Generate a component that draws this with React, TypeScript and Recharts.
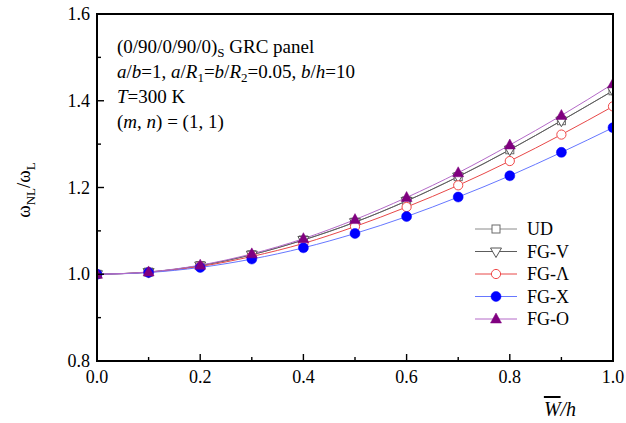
import React from "react";
import { LineChart, Line, XAxis, YAxis, ReferenceLine } from "recharts";

const xValues = [0, 0.1, 0.2, 0.3, 0.4, 0.5, 0.6, 0.7, 0.8, 0.9, 1.0];
const udValues = [1.0, 1.005, 1.02, 1.045, 1.079, 1.12, 1.169, 1.225, 1.287, 1.354, 1.423];
const fgVValues = [1.0, 1.005, 1.02, 1.045, 1.079, 1.12, 1.169, 1.225, 1.287, 1.354, 1.423];
const fgLambdaValues = [1.0, 1.0046, 1.018, 1.041, 1.071, 1.11, 1.155, 1.205, 1.261, 1.322, 1.387];
const fgXValues = [1.0, 1.004, 1.0157, 1.035, 1.061, 1.094, 1.133, 1.178, 1.227, 1.281, 1.338];
const fgOValues = [1.0, 1.0053, 1.021, 1.047, 1.082, 1.126, 1.177, 1.234, 1.298, 1.366, 1.439];

const xTicks = [0, 0.1, 0.2, 0.3, 0.4, 0.5, 0.6, 0.7, 0.8, 0.9, 1.0];
const xTickLabels = ["0.0", "", "0.2", "", "0.4", "", "0.6", "", "0.8", "", "1.0"];
const yTicks = [0.8, 0.9, 1.0, 1.1, 1.2, 1.3, 1.4, 1.5, 1.6];
const yTickLabels = ["0.8", "", "1.0", "", "1.2", "", "1.4", "", "1.6"];

const series = [
  { key: "ud", name: "UD", values: udValues, line: "#8a8a8a", mark: "#6a6a6a", shape: "square" },
  { key: "fgV", name: "FG-V", values: fgVValues, line: "#5c5c5c", mark: "#555555", shape: "triDown" },
  { key: "fgL", name: "FG-\u039B", values: fgLambdaValues, line: "#e84848", mark: "#f04848", shape: "circleOpen" },
  { key: "fgX", name: "FG-X", values: fgXValues, line: "#6677ff", mark: "#0000ff", shape: "circleFill" },
  { key: "fgO", name: "FG-O", values: fgOValues, line: "#b46ac8", mark: "#800080", shape: "triUp" },
];

const data = xValues.map((x, i) => {
  const row: any = { x };
  series.forEach((s) => (row[s.key] = s.values[i]));
  return row;
});

const FONT = "'Liberation Serif', 'Times New Roman', serif";

const PLOT = { left: 97, top: 14, right: 613, bottom: 361 };

function Marker({ shape, cx, cy, color }: any) {
  if (cx == null || cy == null) return null;
  switch (shape) {
    case "square":
      return <rect x={cx - 4} y={cy - 4} width={8} height={8} fill="#fff" stroke={color} strokeWidth={1} />;
    case "triDown":
      return (
        <polygon
          points={`${cx - 5.5},${cy - 3.5} ${cx + 5.5},${cy - 3.5} ${cx},${cy + 6}`}
          fill="#fff"
          stroke={color}
          strokeWidth={1}
        />
      );
    case "circleOpen":
      return <circle cx={cx} cy={cy} r={4.6} fill="#fff" stroke={color} strokeWidth={1} />;
    case "circleFill":
      return <circle cx={cx} cy={cy} r={5} fill={color} stroke={color} strokeWidth={0.5} />;
    case "triUp":
      return (
        <polygon
          points={`${cx - 5.5},${cy + 4} ${cx + 5.5},${cy + 4} ${cx},${cy - 6}`}
          fill={color}
          stroke={color}
          strokeWidth={0.5}
        />
      );
    default:
      return null;
  }
}

function XTick(props: any) {
  const { x, y, index } = props;
  const label = xTickLabels[index] ?? "";
  const major = label !== "";
  const len = major ? 7 : 4;
  return (
    <g>
      <rect x={x - 0.7} y={y - len} width={1.4} height={len} fill="#000" />
      {major && (
        <text x={x} y={y + 22} textAnchor="middle" fontFamily={FONT} fontSize={18} fill="#000">
          {label}
        </text>
      )}
    </g>
  );
}

function YTick(props: any) {
  const { x, y, index } = props;
  const label = yTickLabels[index] ?? "";
  const major = label !== "";
  const len = major ? 7 : 4;
  return (
    <g>
      <rect x={x} y={y - 0.7} width={len} height={1.4} fill="#000" />
      {major && (
        <text x={x - 7} y={y + 6} textAnchor="end" fontFamily={FONT} fontSize={18} fill="#000">
          {label}
        </text>
      )}
    </g>
  );
}

function LegendBlock() {
  const rowH = 22.5;
  const left = 475;
  const top = 229;
  return (
    <g>
      {series.map((s, i) => {
        const cy = top + i * rowH;
        return (
          <g key={s.key}>
            <line x1={left} x2={left + 42} y1={cy} y2={cy} stroke={s.line} strokeWidth={1} />
            <Marker shape={s.shape} cx={left + 21} cy={cy} color={s.mark} />
            <text x={left + 52} y={cy + 6} fontFamily={FONT} fontSize={18} fill="#000">
              {s.name}
            </text>
          </g>
        );
      })}
    </g>
  );
}

export default function App() {
  return (
    <div style={{ position: "absolute", left: 0, top: 0, width: 626, height: 423, background: "#fff" }}>
      <LineChart
        width={626}
        height={423}
        data={data}
        margin={{ top: PLOT.top, right: 626 - PLOT.right, left: 0, bottom: 0 }}
      >
        <XAxis
          dataKey="x"
          type="number"
          domain={[0, 1]}
          ticks={xTicks}
          interval={0}
          allowDataOverflow
          tickSize={0}
          tickMargin={0}
          tick={XTick}
          tickLine={false}
          axisLine={{ stroke: "#000", strokeWidth: 1.8 }}
          height={423 - PLOT.bottom}
        />
        <YAxis
          type="number"
          domain={[0.8, 1.6]}
          ticks={yTicks}
          interval={0}
          allowDataOverflow
          tickSize={0}
          tickMargin={0}
          tick={YTick}
          tickLine={false}
          axisLine={{ stroke: "#000", strokeWidth: 1.8 }}
          width={PLOT.left}
        />
        <ReferenceLine y={1.6} stroke="#000" strokeWidth={1.8} ifOverflow="extendDomain" />
        <ReferenceLine x={1} stroke="#000" strokeWidth={1.8} ifOverflow="extendDomain" />
        {series.map((s) => (
          <Line
            key={s.key}
            dataKey={s.key}
            name={s.name}
            type="monotone"
            stroke={s.line}
            strokeWidth={1}
            isAnimationActive={false}
            dot={(p: any) => <Marker key={`${s.key}-${p.index}`} shape={s.shape} cx={p.cx} cy={p.cy} color={s.mark} />}
            activeDot={false}
          />
        ))}
      </LineChart>
      <div
        style={{
          position: "absolute",
          left: PLOT.left - 1,
          top: PLOT.top - 1,
          width: PLOT.right - PLOT.left - 2,
          height: PLOT.bottom - PLOT.top - 2,
          border: "2px solid #000",
          pointerEvents: "none",
        }}
      />
      <svg
        width={626}
        height={423}
        style={{ position: "absolute", left: 0, top: 0, pointerEvents: "none" }}
      >
        <LegendBlock />
        <g fontFamily={FONT} fontSize={19} fill="#000">
          <text x={117} y={53}>
            (0/90/0/90/0)
            <tspan fontSize={13} dy={4}>S</tspan>
            <tspan dy={-4}> GRC panel</tspan>
          </text>
          <text x={117} y={78}>
            <tspan fontStyle="italic">a</tspan>/<tspan fontStyle="italic">b</tspan>=1,{" "}
            <tspan fontStyle="italic">a</tspan>/<tspan fontStyle="italic">R</tspan>
            <tspan fontSize={13} dy={4}>1</tspan>
            <tspan dy={-4}>=</tspan>
            <tspan fontStyle="italic">b</tspan>/<tspan fontStyle="italic">R</tspan>
            <tspan fontSize={13} dy={4}>2</tspan>
            <tspan dy={-4}>=0.05, </tspan>
            <tspan fontStyle="italic">b</tspan>/<tspan fontStyle="italic">h</tspan>=10
          </text>
          <text x={117} y={103}>
            <tspan fontStyle="italic">T</tspan>=300 K
          </text>
          <text x={117} y={128}>
            (<tspan fontStyle="italic">m</tspan>, <tspan fontStyle="italic">n</tspan>) = (1, 1)
          </text>
          <text x={560} y={416} textAnchor="middle" fontSize={20} fontStyle="italic">
            <tspan style={{ textDecoration: "overline" }}>W</tspan>/h
          </text>
          <text
            x={30}
            y={190}
            textAnchor="middle"
            fontFamily={FONT}
            fontSize={19}
            transform="rotate(-90, 30, 190)"
          >
            ω<tspan fontSize={13} dy={5}>NL</tspan>
            <tspan dy={-5}>/ω</tspan>
            <tspan fontSize={13} dy={5}>L</tspan>
          </text>
        </g>
      </svg>
    </div>
  );
}
